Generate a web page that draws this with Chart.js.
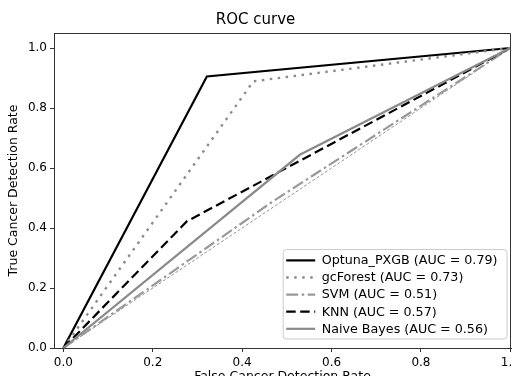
<!DOCTYPE html>
<html>
<head>
<meta charset="utf-8">
<script src="https://cdn.jsdelivr.net/npm/chart.js@4.4.0/dist/chart.umd.min.js"></script>
<style>
html,body{margin:0;padding:0;overflow:hidden;background:#fff;width:513px;height:376px}
#wrap{width:540px;height:395px;position:relative}
canvas{display:block}
</style>
</head>
<body>
<div id="wrap"><canvas id="c" width="540" height="395"></canvas></div>
<script>
// ---- data ----
const titleText = 'ROC curve';
const xAxisLabel = 'False Cancer Detection Rate';
const yAxisLabel = 'True Cancer Detection Rate';
const modelNames = ['Optuna_PXGB', 'gcForest', 'SVM', 'KNN', 'Naive Bayes'];
const aucValues = ['0.79', '0.73', '0.51', '0.57', '0.56'];

const optunaFpr = [0.0, 0.321, 1.0];
const optunaTpr = [0.0, 0.905, 1.0];
const gcForestFpr = [0.0, 0.425, 1.0];
const gcForestTpr = [0.0, 0.889, 1.0];
const svmFpr = [0.0, 0.47, 1.0];
const svmTpr = [0.0, 0.49, 1.0];
const knnFpr = [0.0, 0.276, 1.0];
const knnTpr = [0.0, 0.422, 1.0];
const nbFpr = [0.0, 0.529, 1.0];
const nbTpr = [0.0, 0.644, 1.0];
const chanceFpr = [0.0, 1.0];
const chanceTpr = [0.0, 1.0];

const xTickValues = [0.0, 0.2, 0.4, 0.6, 0.8, 1.0];
const xTickLabels = ['0.0', '0.2', '0.4', '0.6', '0.8', '1.0'];
const yTickValues = [0.0, 0.2, 0.4, 0.6, 0.8, 1.0];
const yTickLabels = ['0.0', '0.2', '0.4', '0.6', '0.8', '1.0'];

// ---- styles ----
const FONT = 'DejaVu Sans';
const lineStyles = [
  {color: '#000000', dash: [], width: 2.2},
  {color: '#8a8a8a', dash: [2.5, 5.5], width: 2.4},
  {color: '#999999', dash: [12, 3.5, 2.5, 3.5], width: 2.2},
  {color: '#000000', dash: [9.5, 4.5], width: 2.2},
  {color: '#8a8a8a', dash: [], width: 2.2}
];

const pts = (xs, ys) => xs.map((x, i) => ({x: x, y: ys[i]}));
const curves = [
  pts(optunaFpr, optunaTpr),
  pts(gcForestFpr, gcForestTpr),
  pts(svmFpr, svmTpr),
  pts(knnFpr, knnTpr),
  pts(nbFpr, nbTpr)
];
const legendLabels = modelNames.map((n, i) => n + ' (AUC = ' + aucValues[i] + ')');

const datasets = curves.map((d, i) => ({
  label: legendLabels[i],
  data: d,
  showLine: true,
  borderColor: lineStyles[i].color,
  borderWidth: lineStyles[i].width,
  borderDash: lineStyles[i].dash,
  pointRadius: 0,
  tension: 0,
  fill: false,
  order: 5 - i
}));
datasets.push({
  label: 'chance',
  data: pts(chanceFpr, chanceTpr),
  showLine: true,
  borderColor: '#777777',
  borderWidth: 0.8,
  borderDash: [3, 2],
  pointRadius: 0,
  fill: false,
  order: 6
});

const framePlugin = {
  id: 'frame',
  afterDraw(chart) {
    const {ctx, chartArea: a} = chart;
    ctx.save();
    ctx.strokeStyle = '#333';
    ctx.lineWidth = 1;
    ctx.beginPath();
    ctx.moveTo(Math.round(a.left), Math.round(a.top) + 0.5);
    ctx.lineTo(Math.round(a.right) - 0.5, Math.round(a.top) + 0.5);
    ctx.lineTo(Math.round(a.right) - 0.5, Math.round(a.bottom));
    ctx.stroke();
    ctx.restore();

    // legend
    const fs = 12.7;
    ctx.save();
    ctx.font = fs + 'px "' + FONT + '"';
    let maxW = 0;
    legendLabels.forEach(t => { maxW = Math.max(maxW, ctx.measureText(t).width); });
    const boxW = 39 + maxW + 9;
    const boxH = 89.5;
    const right = a.right - 4.5;
    const bottom = a.bottom - 9.5;
    const left = right - boxW, top = bottom - boxH;
    ctx.beginPath();
    if (ctx.roundRect) ctx.roundRect(left + 0.5, top + 0.5, boxW, boxH, 3);
    else ctx.rect(left + 0.5, top + 0.5, boxW, boxH);
    ctx.fillStyle = 'rgba(255,255,255,0.85)';
    ctx.fill();
    ctx.strokeStyle = '#cccccc';
    ctx.lineWidth = 1;
    ctx.stroke();
    ctx.textBaseline = 'middle';
    ctx.textAlign = 'left';
    legendLabels.forEach((t, i) => {
      const y = top + 11.4 + i * 17.1;
      ctx.beginPath();
      ctx.setLineDash(lineStyles[i].dash);
      ctx.strokeStyle = lineStyles[i].color;
      ctx.lineWidth = lineStyles[i].width;
      ctx.moveTo(left + 3.5, y);
      ctx.lineTo(left + 32.5, y);
      ctx.stroke();
      ctx.setLineDash([]);
      ctx.fillStyle = '#000';
      ctx.fillText(t, left + 39, y + 0.5);
    });
    ctx.restore();
  }
};

new Chart(document.getElementById('c'), {
  type: 'scatter',
  data: {datasets: datasets},
  options: {
    responsive: false,
    animation: false,
    devicePixelRatio: 1,
    layout: {padding: {left: 0, right: 29, top: 0, bottom: 0}},
    plugins: {
      legend: {display: false},
      tooltip: {enabled: false},
      title: {
        display: true,
        text: titleText,
        color: '#000',
        font: {family: FONT, size: 15, weight: 'normal'},
        padding: {top: 11.5, bottom: 3.5}
      }
    },
    scales: {
      x: {
        type: 'linear',
        min: -0.021,
        max: 1.0015,
        afterFit(s) { s.height = 47; },
        afterBuildTicks(s) { s.ticks = xTickValues.map(v => ({value: v})); },
        ticks: {
          autoSkip: false, maxRotation: 0, padding: 4,
          color: '#000',
          font: {family: FONT, size: 12},
          callback: (v, i) => xTickLabels[i]
        },
        grid: {drawOnChartArea: false, drawTicks: true, tickLength: 4, color: '#333'},
        border: {color: '#333', width: 1},
        title: {
          display: true, text: xAxisLabel, color: '#000',
          font: {family: FONT, size: 12.5},
          padding: {top: 0, bottom: 10.5}
        }
      },
      y: {
        type: 'linear',
        min: 0,
        max: 1.05,
        afterFit(s) { s.width = 54; },
        afterBuildTicks(s) { s.ticks = yTickValues.map(v => ({value: v})); },
        ticks: {
          autoSkip: false, padding: 3,
          color: '#000',
          font: {family: FONT, size: 12},
          callback: (v, i) => yTickLabels[i]
        },
        grid: {drawOnChartArea: false, drawTicks: true, tickLength: 4, color: '#333'},
        border: {color: '#333', width: 1},
        title: {
          display: true, text: yAxisLabel, color: '#000',
          font: {family: FONT, size: 12.5},
          padding: {top: 6, bottom: 0}
        }
      }
    }
  },
  plugins: [framePlugin]
});
</script>
</body>
</html>
